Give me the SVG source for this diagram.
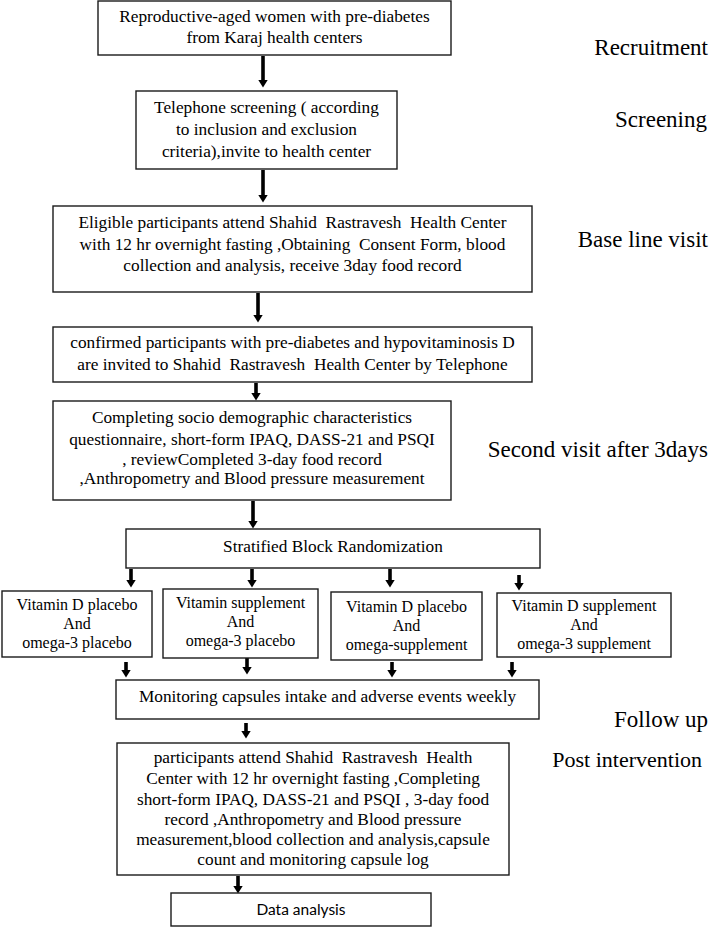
<svg xmlns="http://www.w3.org/2000/svg" width="709" height="927" viewBox="0 0 709 927">
<style>
.box{fill:#fff;stroke:#1a1a1a;stroke-width:1.4}
.t{font-family:"Liberation Serif","Times New Roman",serif;font-size:17.3px;fill:#000;text-anchor:middle;white-space:pre}
.s{font-size:16px}
.lbl{font-family:"Liberation Serif","Times New Roman",serif;font-size:23px;fill:#000;text-anchor:end}
.d{font-family:Lato,"Open Sans",sans-serif;font-size:15.5px;fill:#000;text-anchor:middle}
.arr{stroke:#000;stroke-width:3.6;fill:none;marker-end:url(#ah)}
</style>
<defs>
<marker id="ah" viewBox="0 0 8 10" refX="0.5" refY="5" markerWidth="8" markerHeight="10" markerUnits="userSpaceOnUse" orient="auto" preserveAspectRatio="none">
<path d="M0,0 L8,5 L0,10 Z" fill="#000"/>
</marker>
</defs>

<g id="connectors">
<line class="arr" x1="263" y1="56" x2="263" y2="80"/>
<line class="arr" x1="263" y1="170" x2="263" y2="195"/>
<line class="arr" x1="258" y1="293" x2="258" y2="315"/>
<line class="arr" x1="256" y1="383" x2="256" y2="393"/>
<line class="arr" x1="253" y1="501" x2="253" y2="521"/>
<line class="arr" x1="131" y1="569" x2="131" y2="580"/>
<line class="arr" x1="252" y1="569" x2="252" y2="580"/>
<line class="arr" x1="390" y1="569" x2="390" y2="580"/>
<line class="arr" x1="519" y1="575" x2="519" y2="583"/>
<line class="arr" x1="126" y1="662" x2="126" y2="670"/>
<line class="arr" x1="247" y1="658" x2="247" y2="667"/>
<line class="arr" x1="392" y1="662" x2="392" y2="670"/>
<line class="arr" x1="512" y1="662" x2="512" y2="670"/>
<line class="arr" x1="246" y1="723" x2="246" y2="731"/>
<line class="arr" x1="238" y1="876" x2="238" y2="886"/>
</g>

<g id="recruit">
<rect class="box" x="98" y="1" width="353" height="54"/>
<text class="t" x="274.5" y="22">Reproductive-aged women with pre-diabetes</text>
<text class="t" x="274.5" y="43">from Karaj health centers</text>
</g>

<g id="screening">
<rect class="box" x="136" y="91" width="261" height="78"/>
<text class="t" x="266.5" y="113">Telephone screening ( according</text>
<text class="t" x="266.5" y="135">to inclusion and exclusion</text>
<text class="t" x="266.5" y="157">criteria),invite to health center</text>
</g>

<g id="baseline">
<rect class="box" x="53" y="206" width="479" height="86"/>
<text class="t" x="292.5" y="228">Eligible participants attend Shahid  Rastravesh  Health Center</text>
<text class="t" x="292.5" y="250">with 12 hr overnight fasting ,Obtaining  Consent Form, blood</text>
<text class="t" x="292.5" y="271">collection and analysis, receive 3day food record</text>
</g>

<g id="confirmed">
<rect class="box" x="53" y="327" width="479" height="55"/>
<text class="t" x="292.5" y="348">confirmed participants with pre-diabetes and hypovitaminosis D</text>
<text class="t" x="292.5" y="370">are invited to Shahid  Rastravesh  Health Center by Telephone</text>
</g>

<g id="second">
<rect class="box" x="53" y="401" width="398" height="99"/>
<text class="t" x="252" y="423">Completing socio demographic characteristics</text>
<text class="t" x="252" y="445">questionnaire, short-form IPAQ, DASS-21 and PSQI</text>
<text class="t" x="252" y="465">, reviewCompleted 3-day food record</text>
<text class="t" x="252" y="484">,Anthropometry and Blood pressure measurement</text>
</g>

<g id="random">
<rect class="box" x="126" y="529" width="414" height="39"/>
<text class="t" x="333" y="552">Stratified Block Randomization</text>
</g>

<g id="arm1">
<rect class="box" x="2" y="591" width="150" height="66"/>
<text class="t s" x="77" y="610">Vitamin D placebo</text>
<text class="t s" x="77" y="629">And</text>
<text class="t s" x="77" y="648">omega-3 placebo</text>
</g>

<g id="arm2">
<rect class="box" x="163" y="589" width="155" height="69"/>
<text class="t s" x="240.5" y="608">Vitamin supplement</text>
<text class="t s" x="240.5" y="627">And</text>
<text class="t s" x="240.5" y="646">omega-3 placebo</text>
</g>

<g id="arm3">
<rect class="box" x="331" y="592" width="151" height="68"/>
<text class="t s" x="406.5" y="612">Vitamin D placebo</text>
<text class="t s" x="406.5" y="631">And</text>
<text class="t s" x="406.5" y="650">omega-supplement</text>
</g>

<g id="arm4">
<rect class="box" x="497" y="593" width="174" height="64"/>
<text class="t s" x="584" y="611">Vitamin D supplement</text>
<text class="t s" x="584" y="630">And</text>
<text class="t s" x="584" y="649">omega-3 supplement</text>
</g>

<g id="monitor">
<rect class="box" x="116" y="680" width="423" height="39"/>
<text class="t" x="327.5" y="702">Monitoring capsules intake and adverse events weekly</text>
</g>

<g id="post">
<rect class="box" x="117" y="743" width="392" height="132"/>
<text class="t" x="313" y="763">participants attend Shahid  Rastravesh  Health</text>
<text class="t" x="313" y="784">Center with 12 hr overnight fasting ,Completing</text>
<text class="t" x="313" y="805">short-form IPAQ, DASS-21 and PSQI , 3-day food</text>
<text class="t" x="313" y="825">record ,Anthropometry and Blood pressure</text>
<text class="t" x="313" y="845">measurement,blood collection and analysis,capsule</text>
<text class="t" x="313" y="865">count and monitoring capsule log</text>
</g>

<g id="data">
<rect class="box" x="171" y="893" width="260" height="33"/>
<text class="d" x="301" y="915">Data analysis</text>
</g>

<g id="phases">
<text class="lbl" x="708" y="55">Recruitment</text>
<text class="lbl" x="707" y="127">Screening</text>
<text class="lbl" x="708" y="247">Base line visit</text>
<text class="lbl" x="708" y="457">Second visit after 3days</text>
<text class="lbl" x="708" y="727">Follow up</text>
<text class="lbl" x="702" y="767" style="font-size:22px">Post intervention</text>
</g>
</svg>
